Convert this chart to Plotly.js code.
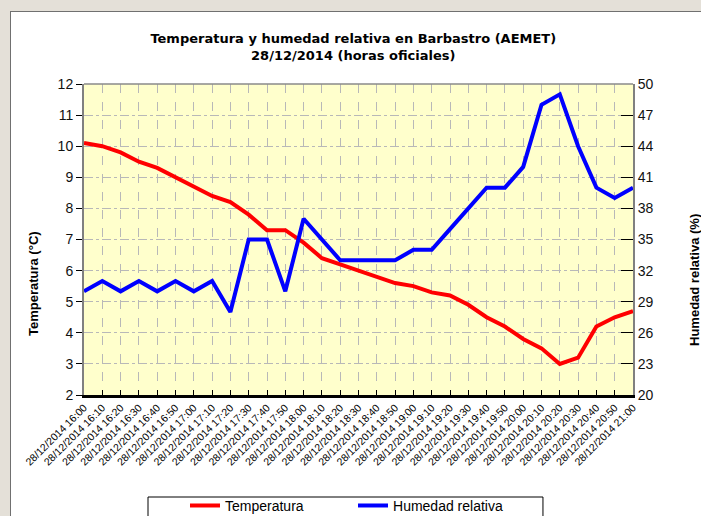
<!DOCTYPE html>
<html><head><meta charset="utf-8">
<script src="https://cdn.plot.ly/plotly-3.0.1.min.js"></script>
<style>
html,body{margin:0;padding:0;width:701px;height:516px;overflow:hidden;background:#e4e0d8;}
#panel{position:absolute;left:10px;top:11px;width:691px;height:505px;background:#fff;border-left:1px solid #707070;border-top:1px solid #707070;}
#chart{position:absolute;left:0;top:0;width:701px;height:516px;}
</style></head><body>
<div id="panel"></div><div id="chart"></div>
<script>
const fecha = "28/12/2014";
const horas = ["16:00","16:10","16:20","16:30","16:40","16:50","17:00","17:10","17:20","17:30","17:40","17:50",
  "18:00","18:10","18:20","18:30","18:40","18:50","19:00","19:10","19:20","19:30","19:40","19:50",
  "20:00","20:10","20:20","20:30","20:40","20:50","21:00"];
const temperatura = [10.1,10.0,9.8,9.5,9.3,9.0,8.7,8.4,8.2,7.8,7.3,7.3,6.9,6.4,6.2,6.0,
  5.8,5.6,5.5,5.3,5.2,4.9,4.5,4.2,3.8,3.5,3.0,3.2,4.2,4.5,4.7];
const humedad = [30,31,30,31,30,31,30,31,28,35,35,30,37,35,33,33,
  33,33,34,34,36,38,40,40,42,48,49,44,40,39,40];
const categorias = horas.map(h => fecha + " " + h);

const font = "Liberation Sans, Arial, sans-serif";
const titleFont = "DejaVu Sans, Liberation Sans, sans-serif";
const traces = [
  {x: categorias, y: temperatura, name: "Temperatura", type: "scatter", mode: "lines",
   line: {color: "#ff0000", width: 4}, yaxis: "y"},
  {x: categorias, y: humedad, name: "Humedad relativa", type: "scatter", mode: "lines",
   line: {color: "#0000ff", width: 4}, yaxis: "y2"}
];
const layout = {
  width: 701, height: 516,
  margin: {l: 84, r: 68, t: 84, b: 121, autoexpand: false},
  paper_bgcolor: "rgba(0,0,0,0)",
  plot_bgcolor: "#ffffcc",
  font: {family: font, color: "#000"},
  showlegend: true,
  title: {text: "<b>Temperatura y humedad relativa en Barbastro (AEMET)<br>28/12/2014 (horas oficiales)</b>",
          font: {size: 13, family: titleFont, color: "#000"}, x: 0.504, xanchor: "center", y: 0.917, yanchor: "top"},
  xaxis: {type: "category", range: [0, 30], tickangle: -45, tickfont: {size: 10.5, color: "#000"},
          showgrid: true, gridcolor: "#b8b8b8", griddash: "dash", gridwidth: 1, automargin: false,
          showline: true, linecolor: "#000", linewidth: 2.5, ticks: "inside", ticklen: 5, tickcolor: "#000",
          zeroline: false, fixedrange: true},
  yaxis: {range: [2, 12], tick0: 2, dtick: 1, tickfont: {size: 14, color: "#111"}, automargin: false,
          showgrid: true, gridcolor: "#b8b8b8", griddash: "dashdot", gridwidth: 1,
          showline: true, linecolor: "#808080", linewidth: 2, ticks: "outside", ticklen: 6, tickcolor: "#000",
          zeroline: false},
  yaxis2: {range: [20, 50], tick0: 20, dtick: 3, overlaying: "y", side: "right", automargin: false,
           tickfont: {size: 14, color: "#111"}, showgrid: false,
           showline: true, linecolor: "#808080", linewidth: 2, ticks: "inside", ticklen: 12, tickcolor: "#000",
           zeroline: false},
  legend: {orientation: "h", x: 0.184, xanchor: "left", y: -0.408, yanchor: "bottom",
           bgcolor: "rgba(0,0,0,0)", font: {size: 14, family: font, color: "#000"},
           entrywidth: 123, entrywidthmode: "pixels"},
  shapes: [
    {type: "line", xref: "paper", yref: "paper", x0: 0, x1: 1, y0: 1, y1: 1,
     line: {color: "#8a8a8a", width: 1.5}},
    {type: "rect", xref: "paper", yref: "paper", x0: 0.1166, x1: 0.836, y0: -0.5, y1: -0.328,
     line: {color: "#000", width: 1}, fillcolor: "#fff", layer: "below"}
  ],
  annotations: [
    {text: "<b>Temperatura (°C)</b>", textangle: -90, xref: "paper", yref: "paper",
     x: -0.0929, y: 0.36, xanchor: "center", yanchor: "middle", showarrow: false,
     font: {size: 13, family: font, color: "#000"}},
    {text: "<b>Humedad relativa (%)</b>", textangle: -90, xref: "paper", yref: "paper",
     x: 1.113, y: 0.37, xanchor: "center", yanchor: "middle", showarrow: false,
     font: {size: 13, family: font, color: "#000"}}
  ]
};
Plotly.newPlot("chart", traces, layout, {displayModeBar: false, staticPlot: true});
</script>
</body></html>
